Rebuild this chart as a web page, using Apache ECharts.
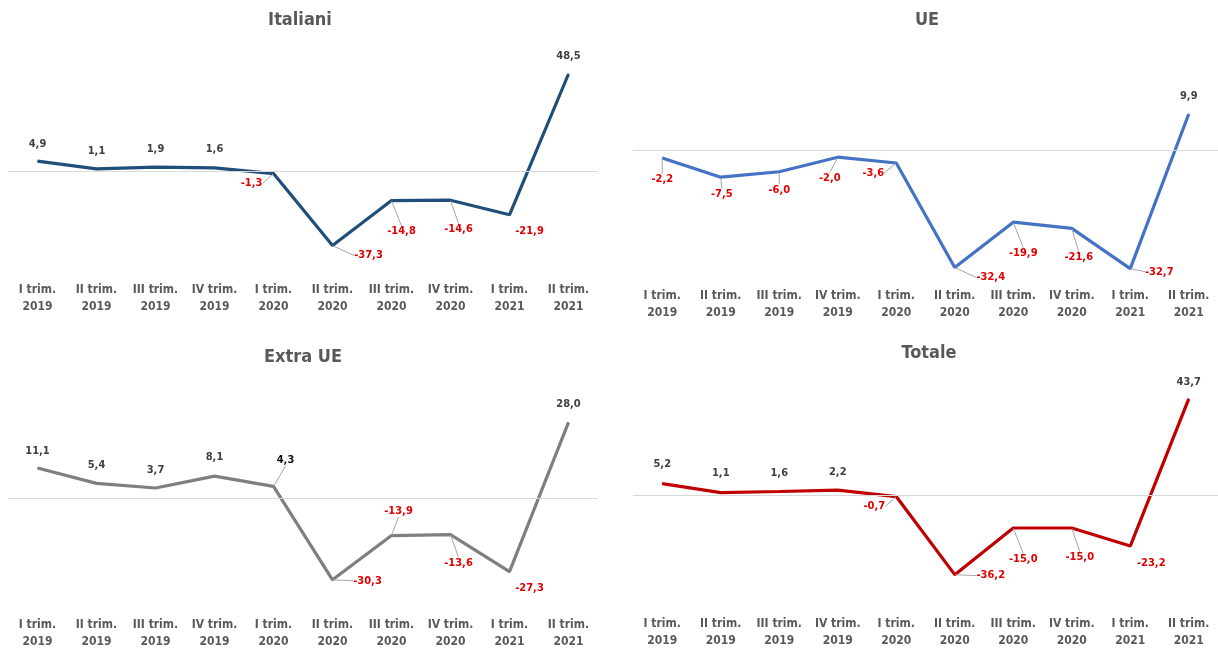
<!DOCTYPE html>
<html><head><meta charset="utf-8">
<script src="https://cdn.jsdelivr.net/npm/echarts@6/dist/echarts.min.js"></script>
<style>html,body{margin:0;padding:0;background:#fff}#c{width:1218px;height:650px}</style>
</head><body><div id="c"></div>
<script>
const categories = ['I trim.\n2019','II trim.\n2019','III trim.\n2019','IV trim.\n2019','I trim.\n2020','II trim.\n2020','III trim.\n2020','IV trim.\n2020','I trim.\n2021','II trim.\n2021'];
const titles = ['Italiani', 'UE', 'Extra UE', 'Totale'];
const italiani = [4.9, 1.1, 1.9, 1.6, -1.3, -37.3, -14.8, -14.6, -21.9, 48.5];
const ue = [-2.2, -7.5, -6.0, -2.0, -3.6, -32.4, -19.9, -21.6, -32.7, 9.9];
const extraUe = [11.1, 5.4, 3.7, 8.1, 4.3, -30.3, -13.9, -13.6, -27.3, 28.0];
const totale = [5.2, 1.1, 1.6, 2.2, -0.7, -36.2, -15.0, -15.0, -23.2, 43.7];

const FONT = '"Liberation Sans Narrow","Arial Narrow","DejaVu Sans Condensed",sans-serif';
const panels = [
  { data: italiani, color: '#1f4e79', grid: {left: 8, width: 590, top: 51, height: 220}, min: -50, max: 60,
    title: {x: 300, y: 11},
    offs: [[0,-17],[0,-18],[0,-18],[0,-19],[-22,10],[36,10],[10,31],[8,29],[20,16],[0,-18]],
    lines: [0,0,0,0,1,1,1,1,0,0] },
  { data: ue, color: '#4472c4', grid: {left: 633, width: 588, top: 95.5, height: 181.5}, min: -35, max: 15,
    title: {x: 927, y: 11},
    offs: [[0,21],[1,17],[0,18],[-8,21],[-23,10],[36,10],[10,31],[7,29],[29,3],[0,-18]],
    lines: [1,1,1,1,1,1,1,1,1,0] },
  { data: extraUe, color: '#7f7f7f', grid: {left: 8, width: 590, top: 390, height: 220}, min: -40, max: 40,
    title: {x: 303, y: 348},
    offs: [[0,-17],[0,-18],[0,-18],[0,-19],[12,-26],[35,1],[7,-24],[8,28],[20,16],[0,-18]],
    lines: [0,0,0,0,1,1,1,1,0,0], posColor: ['#404040','#404040','#404040','#404040','#111111'] },
  { data: totale, color: '#c00000', grid: {left: 633, width: 588, top: 385, height: 220}, min: -50, max: 50,
    title: {x: 929, y: 344},
    offs: [[0,-19],[0,-19],[0,-18],[0,-18],[-22,10],[36,1],[10,31],[8,29],[21,17],[0,-17]],
    lines: [0,0,0,0,1,1,1,1,0,0] }
];

const fmt = v => v.toFixed(1).replace('.', ',');

const option = {
  animation: false,
  title: panels.map((p, i) => ({
    text: titles[i], left: p.title.x, top: p.title.y, textAlign: 'center', padding: 0,
    textStyle: {fontFamily: FONT, fontSize: 18, fontWeight: 'bold', color: '#595959'}
  })),
  grid: panels.map(p => p.grid),
  xAxis: panels.map((p, i) => ({
    type: 'category', gridIndex: i, data: categories, boundaryGap: true,
    axisLine: {show: false, onZero: false}, axisTick: {show: false}, splitLine: {show: false},
    axisLabel: {interval: 0, margin: 10, fontFamily: FONT, fontSize: 12, fontWeight: 'bold', lineHeight: 17, color: '#595959'}
  })),
  yAxis: panels.map((p, i) => ({
    type: 'value', gridIndex: i, min: p.min, max: p.max, show: false
  })),
  series: panels.map((p, i) => ({
    type: 'line', xAxisIndex: i, yAxisIndex: i,
    symbol: 'circle', symbolSize: 1, showSymbol: true,
    lineStyle: {color: p.color, width: 3.2},
    itemStyle: {color: p.color},
    data: p.data.map((v, j) => ({
      value: v,
      label: {color: v < 0 ? '#e00000' : ((p.posColor && p.posColor[j]) || '#404040')},
      labelLine: {show: !!p.lines[j]}
    })),
    label: {show: true, fontFamily: FONT, fontSize: 11, fontWeight: 'bold', formatter: q => fmt(q.value)},
    labelLine: {show: false, lineStyle: {color: '#a6a6a6', width: 1}},
    labelLayout: function (q) {
      const o = p.offs[q.dataIndex];
      const r = q.rect;
      return {x: r.x + r.width / 2 + o[0], y: r.y + r.height / 2 + o[1], align: 'center', verticalAlign: 'middle'};
    },
    markLine: {
      silent: true, symbol: ['none', 'none'], label: {show: false},
      lineStyle: {color: '#d9d9d9', width: 1, type: 'solid'},
      data: [{yAxis: 0}]
    },
    z: 3
  }))
};
echarts.init(document.getElementById('c')).setOption(option);
</script></body></html>
